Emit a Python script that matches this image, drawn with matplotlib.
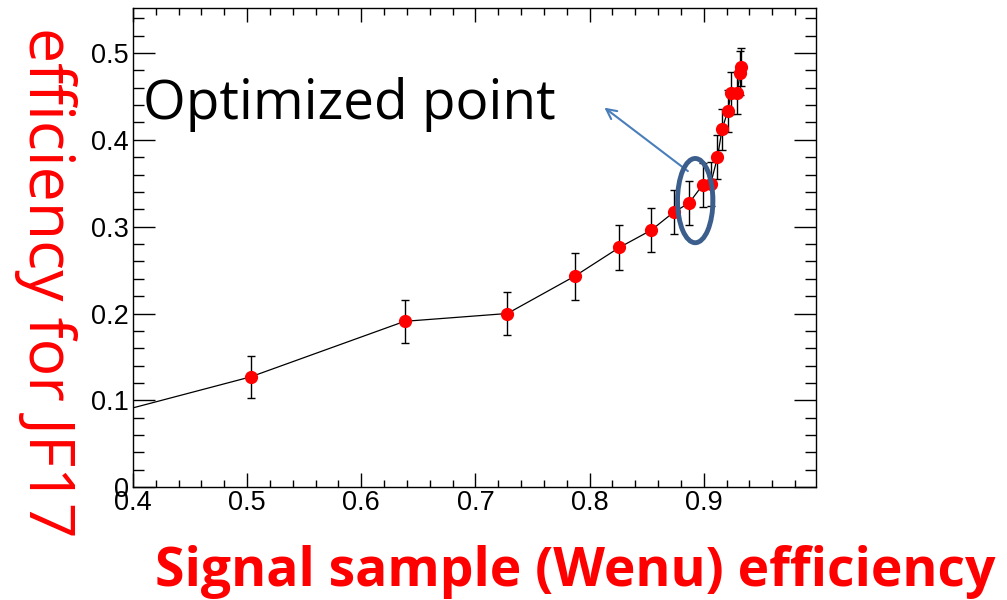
import matplotlib
matplotlib.use("Agg")
import matplotlib.pyplot as plt
from matplotlib.patches import Ellipse
from matplotlib.ticker import MultipleLocator

# signal efficiency vs JF17 efficiency (first point lies off the left edge)
sig_eff = [0.35, 0.503, 0.638, 0.728, 0.787, 0.826, 0.854, 0.874, 0.887, 0.899,
           0.906, 0.912, 0.916, 0.921, 0.924, 0.929, 0.932, 0.933]
bkg_eff = [0.074, 0.127, 0.191, 0.200, 0.243, 0.276, 0.296, 0.317, 0.327, 0.348,
           0.349, 0.380, 0.412, 0.433, 0.454, 0.454, 0.477, 0.484]
bkg_err = [0.025, 0.024, 0.025, 0.025, 0.027, 0.026, 0.025, 0.025, 0.025, 0.025,
           0.025, 0.025, 0.024, 0.024, 0.024, 0.024, 0.025, 0.022]

fig = plt.figure(figsize=(10.07, 6), dpi=100)
ax = fig.add_axes([0.132, 0.188, 0.678, 0.799])

ax.plot(sig_eff, bkg_eff, color='black', lw=0.9, zorder=2)
ax.errorbar(sig_eff, bkg_eff, yerr=bkg_err, fmt='none', ecolor='black',
            elinewidth=1.0, capsize=3, capthick=1.0, zorder=3)
ax.plot(sig_eff, bkg_eff, 'o', color='red', ms=8.5, mec='red', zorder=4)

ax.set_xlim(0.4, 0.998)
ax.set_ylim(0, 0.552)
ax.xaxis.set_major_locator(MultipleLocator(0.1))
ax.xaxis.set_minor_locator(MultipleLocator(0.02))
ax.yaxis.set_major_locator(MultipleLocator(0.1))
ax.yaxis.set_minor_locator(MultipleLocator(0.02))
ax.set_xticks([0.4, 0.5, 0.6, 0.7, 0.8, 0.9])
ax.set_xticklabels(['0.4', '0.5', '0.6', '0.7', '0.8', '0.9'])
ax.set_yticks([0, 0.1, 0.2, 0.3, 0.4, 0.5])
ax.set_yticklabels(['0', '0.1', '0.2', '0.3', '0.4', '0.5'])

ax.tick_params(axis='both', which='both', direction='in', top=True, right=True,
               labelsize=19.5, width=1.0)
ax.tick_params(axis='x', which='major', length=10, pad=2)
ax.tick_params(axis='x', which='minor', length=5)
ax.tick_params(axis='y', which='major', length=16, pad=3)
ax.tick_params(axis='y', which='minor', length=8)
for lbl in ax.get_xticklabels() + ax.get_yticklabels():
    lbl.set_family('Liberation Sans')
for s in ax.spines.values():
    s.set_linewidth(1.0)

# annotation
ax.add_patch(Ellipse((0.8925, 0.33), 0.031, 0.097, fill=False,
                     ec='#3b5e8c', lw=3.5, zorder=5))
ax.annotate('', xy=(0.811, 0.439), xytext=(0.888, 0.362),
            arrowprops=dict(arrowstyle='->', color='#4a7ebb', lw=1.5,
                            mutation_scale=18))
ax.text(0.409, 0.441, 'Optimized point', fontsize=39.5, family='Open Sans',
        color='black', va='center', ha='left')

fig.text(0.045, 0.53, 'efficiency for JF17', rotation=-90, color='red',
         fontsize=45, family='Open Sans', ha='center', va='center')
fig.text(0.571, 0.047, 'Signal sample (Wenu) efficiency', color='red',
         fontsize=38.5, family='Open Sans', fontweight='bold',
         ha='center', va='center')

fig.savefig('out.png', dpi=100)
